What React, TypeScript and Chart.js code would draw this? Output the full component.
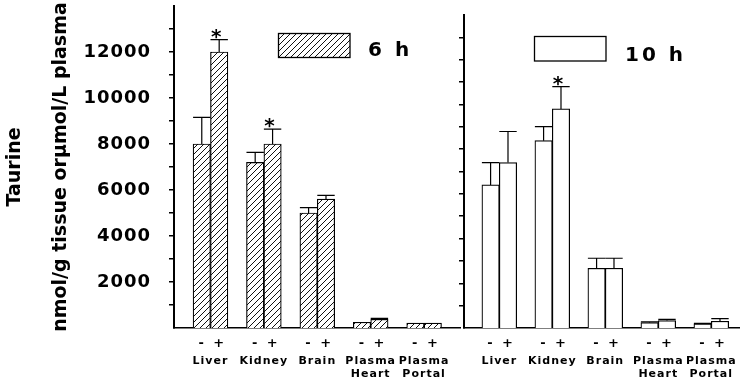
import React, { useEffect, useRef } from 'react';
import { Chart, registerables } from 'chart.js';

Chart.register(...registerables);
Chart.defaults.font.family = '"DejaVu Sans", sans-serif';
Chart.defaults.color = '#000';

// ---- data ----
const categories: string[][] = [['Liver'], ['Kidney'], ['Brain'], ['Plasma', 'Heart'], ['Plasma', 'Portal']];
const treatments = ['-', '+'];

const yMax = 14000;
const yStep = 1000;
const yLabelStep = 2000;
const yTitle = ['Taurine', '', 'nmol/g tissue orμmol/L plasma'];

// 6 h
const label6h = '6 h';
const minus6h = [8000, 7200, 5000, 250, 210];
const minus6hErr = [1160, 440, 230, 0, 0];
const plus6h = [12000, 8000, 5600, 380, 210];
const plus6hErr = [540, 650, 170, 40, 0];
const signif6h = [true, true, false, false, false];

// 10 h
const label10h = '10 h';
const minus10h = [6400, 8380, 2670, 240, 180];
const minus10hErr = [1000, 630, 450, 30, 30];
const plus10h = [7400, 9800, 2670, 330, 300];
const plus10hErr = [1390, 1000, 450, 60, 120];
const signif10h = [false, true, false, false, false];

type PanelSpec = {
  legend: string;
  minus: number[];
  minusErr: number[];
  plus: number[];
  plusErr: number[];
  signif: boolean[];
  hatched: boolean;
  showYLabels: boolean;
  left: number;
  width: number;
  yAxisWidth: number;
  padTop: number;
  padRight: number;
  xMin: number;
  xMax: number;
  legendBox: [number, number, number, number];
  legendText: [number, number];
};

const HEIGHT = 383;
const BAR_W = 17.4;
const SIGN_OFFSET = 0.165;

function makeHatch(ctx: CanvasRenderingContext2D) {
  const s = 6;
  const c = document.createElement('canvas');
  c.width = s;
  c.height = s;
  const g = c.getContext('2d')!;
  g.fillStyle = '#fff';
  g.fillRect(0, 0, s, s);
  g.strokeStyle = '#111';
  g.lineWidth = 1;
  g.beginPath();
  g.moveTo(0, s);
  g.lineTo(s, 0);
  g.moveTo(-1, 1);
  g.lineTo(1, -1);
  g.moveTo(s - 1, s + 1);
  g.lineTo(s + 1, s - 1);
  g.stroke();
  return ctx.createPattern(c, 'repeat')!;
}

// scales keep exactly the size given to them, with no extra edge padding
function fixSize(s: any, size: { width?: number; height?: number }) {
  if (size.width !== undefined) s.width = size.width;
  if (size.height !== undefined) s.height = size.height;
  s.paddingTop = 0;
  s.paddingBottom = 0;
  s.paddingLeft = 0;
  s.paddingRight = 0;
}

function decorPlugin(p: PanelSpec, fill: any) {
  return {
    id: 'panelDecor',
    beforeDraw(chart: any) {
      chart.ctx.letterSpacing = '0px';
    },
    afterDatasetsDraw(chart: any) {
      const ctx = chart.ctx as any;
      const y = chart.scales.y;
      ctx.save();
      ctx.strokeStyle = '#000';
      ctx.lineWidth = 1.2;
      [p.minusErr, p.plusErr].forEach((errs, di) => {
        const vals = di === 0 ? p.minus : p.plus;
        const meta = chart.getDatasetMeta(di);
        meta.data.forEach((bar: any, i: number) => {
          const top = y.getPixelForValue(vals[i] + errs[i]);
          const half = bar.width / 2;
          if (errs[i] > 0) {
            ctx.beginPath();
            ctx.moveTo(bar.x, bar.y);
            ctx.lineTo(bar.x, top);
            ctx.moveTo(bar.x - half, top);
            ctx.lineTo(bar.x + half, top);
            ctx.stroke();
          }
          if (di === 1 && p.signif[i]) {
            ctx.fillStyle = '#000';
            ctx.font = 'bold 20px "DejaVu Sans"';
            ctx.textAlign = 'center';
            ctx.textBaseline = 'alphabetic';
            ctx.fillText('*', bar.x - 3, top + 3);
          }
        });
      });
      ctx.restore();
      ctx.letterSpacing = '1px';
    },
    afterDraw(chart: any) {
      const ctx = chart.ctx as any;
      const [bx, by, bw, bh] = p.legendBox;
      ctx.save();
      ctx.fillStyle = fill;
      ctx.fillRect(bx, by, bw, bh);
      ctx.strokeStyle = '#000';
      ctx.lineWidth = 1.3;
      ctx.strokeRect(bx, by, bw, bh);
      ctx.letterSpacing = '3px';
      ctx.font = 'bold 20px "DejaVu Sans"';
      ctx.fillStyle = '#000';
      ctx.textAlign = 'left';
      ctx.textBaseline = 'alphabetic';
      ctx.fillText(p.legend, p.legendText[0], p.legendText[1]);
      ctx.restore();
      ctx.letterSpacing = '0px';
    },
  };
}

function Panel({ spec }: { spec: PanelSpec }) {
  const ref = useRef<HTMLCanvasElement>(null);

  useEffect(() => {
    const canvas = ref.current!;
    const ctx = canvas.getContext('2d')!;
    const fill = spec.hatched ? makeHatch(ctx) : '#fff';
    const points = (vals: number[]) => vals.map((v, i) => ({ x: i, y: v }));
    const barStyle = {
      backgroundColor: fill,
      borderColor: '#000',
      borderWidth: 1.2,
      barThickness: BAR_W,
      xAxisID: 'x',
      yAxisID: 'y',
    };

    const chart = new Chart(ctx, {
      type: 'bar',
      data: {
        datasets: [
          { label: `${spec.legend} ${treatments[0]}`, data: points(spec.minus), ...barStyle },
          { label: `${spec.legend} ${treatments[1]}`, data: points(spec.plus), ...barStyle },
        ],
      },
      options: {
        responsive: false,
        animation: false,
        devicePixelRatio: 1,
        layout: {
          autoPadding: false,
          padding: { left: 0, top: spec.padTop, right: spec.padRight, bottom: 0 },
        },
        plugins: { legend: { display: false }, tooltip: { enabled: false } },
        scales: {
          x: {
            type: 'linear',
            position: 'bottom',
            min: spec.xMin,
            max: spec.xMax,
            offset: false,
            weight: 0,
            grid: { display: false, drawTicks: false },
            border: { display: true, color: '#000', width: 1.5 },
            afterBuildTicks: (s: any) => {
              s.ticks = categories.flatMap((_, i) => [{ value: i - SIGN_OFFSET }, { value: i + SIGN_OFFSET }]);
            },
            afterFit: (s: any) => fixSize(s, { height: 22 }),
            ticks: {
              autoSkip: false,
              maxRotation: 0,
              minRotation: 0,
              padding: 8,
              z: 1,
              color: '#000',
              font: { size: 13, weight: 'bold' },
              callback: (_v: any, i: number) => treatments[i % 2],
            },
          },
          xc: {
            type: 'linear',
            axis: 'x',
            position: 'bottom',
            min: spec.xMin,
            max: spec.xMax,
            offset: false,
            weight: 1,
            grid: { display: false, drawTicks: false },
            border: { display: false },
            afterBuildTicks: (s: any) => {
              s.ticks = categories.map((_, i) => ({ value: i }));
            },
            afterFit: (s: any) => fixSize(s, { height: 33 }),
            ticks: {
              autoSkip: false,
              maxRotation: 0,
              minRotation: 0,
              padding: 4,
              z: 1,
              color: '#000',
              font: { size: 11, weight: 'bold', lineHeight: 1.23 },
              callback: (_v: any, i: number) => categories[i],
            },
          },
          y: {
            type: 'linear',
            position: 'left',
            min: 0,
            max: yMax,
            afterBuildTicks: (s: any) => {
              s.ticks = s.ticks.filter((t: any) => t.value > 0 && t.value < yMax);
            },
            afterFit: (s: any) => fixSize(s, { width: spec.yAxisWidth }),
            grid: { drawOnChartArea: false, drawTicks: true, tickLength: 5, color: '#000', lineWidth: 1.5 },
            border: { display: true, color: '#000', width: 2 },
            ticks: {
              stepSize: yStep,
              padding: 18,
              z: 1,
              color: '#000',
              font: { size: 18, weight: 'bold' },
              callback: (v: any) => (spec.showYLabels && v % yLabelStep === 0 ? String(v) : ''),
            },
            title: {
              display: spec.showYLabels,
              text: yTitle,
              color: '#000',
              padding: { top: 4, bottom: 0 },
              font: { size: 19, weight: 'bold', lineHeight: 1.2 },
            },
          },
        },
      } as any,
      plugins: [decorPlugin(spec, fill)],
    });
    return () => chart.destroy();
  }, [spec]);

  return (
    <canvas
      ref={ref}
      width={spec.width}
      height={HEIGHT}
      style={{ position: 'absolute', left: spec.left, top: 0, width: spec.width, height: HEIGHT }}
    />
  );
}

const panel6h: PanelSpec = {
  legend: label6h,
  minus: minus6h,
  minusErr: minus6hErr,
  plus: plus6h,
  plusErr: plus6hErr,
  signif: signif6h,
  hatched: true,
  showYLabels: true,
  left: 0,
  width: 462,
  yAxisWidth: 174,
  padTop: 6,
  padRight: 2,
  xMin: -0.683,
  xMax: 4.672,
  legendBox: [278.5, 33.5, 71.5, 24],
  legendText: [368, 56],
};

const panel10h: PanelSpec = {
  legend: label10h,
  minus: minus10h,
  minusErr: minus10hErr,
  plus: plus10h,
  plusErr: plus10hErr,
  signif: signif10h,
  hatched: false,
  showYLabels: false,
  left: 440,
  width: 301,
  yAxisWidth: 24,
  padTop: 15,
  padRight: 2,
  xMin: -0.666,
  xMax: 4.523,
  legendBox: [94.5, 36.5, 71.5, 24.5],
  legendText: [185, 61],
};

export default function App() {
  return (
    <div style={{ position: 'absolute', left: 0, top: 0, width: 741, height: HEIGHT, background: '#fff' }}>
      <Panel spec={panel6h} />
      <Panel spec={panel10h} />
    </div>
  );
}
